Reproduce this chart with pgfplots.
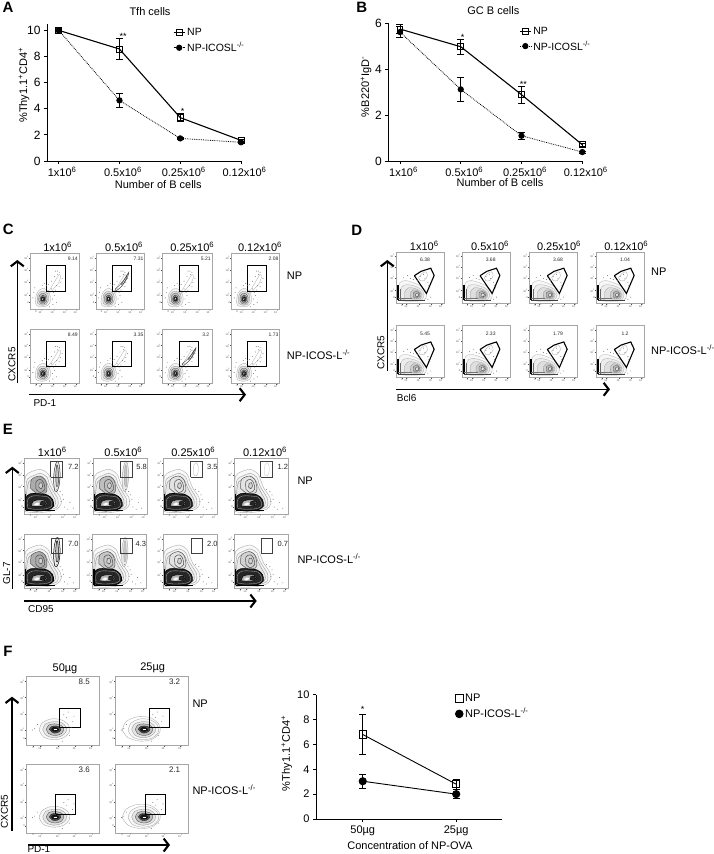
\documentclass[border=0pt]{standalone}
\usepackage{fontspec}
\setmainfont{Liberation Sans}
\usepackage{pgfplots}
\pgfplotsset{compat=1.18}
\usetikzlibrary{arrows.meta}

\pgfplotsset{
  chart/.style={
    scale only axis, anchor=south west, clip=false,
    axis lines=left, axis line style={-, line width=0.9pt},
    tick align=outside, tick pos=left, major tick length=3pt,
    every tick/.style={black, line width=0.9pt},
    xticklabel style={font=\fontsize{11}{13}\selectfont},
    yticklabel style={font=\fontsize{12}{14}\selectfont},
    /pgf/number format/assume math mode=true,
    legend cell align=left,
    legend style={draw=none, fill=none, inner sep=0pt, font=\fontsize{10.5}{11}\selectfont,
      row sep=1.2pt, /tikz/every even column/.append style={column sep=3pt}},
    legend image code/.code={\draw[##1,mark=none] (-5.5pt,0pt) -- (5.5pt,0pt); \draw[##1] plot coordinates {(0pt,0pt)};},
  },
  np/.style={black, line width=1.1pt, mark=square, mark size=2.9pt,
    mark options={solid, fill=none, line width=0.8pt},
    error bars/y dir=both, error bars/y explicit,
    error bars/error mark options={rotate=90, mark size=3.5pt, line width=0.7pt},
    error bars/error bar style={line width=0.7pt}},
  ko/.style={black, densely dotted, line width=0.8pt, mark=*, mark size=2.7pt,
    mark options={solid, fill=black},
    error bars/y dir=both, error bars/y explicit,
    error bars/error mark options={rotate=90, mark size=3.5pt, line width=0.7pt},
    error bars/error bar style={solid, line width=0.7pt}},
  flowbox/.style={
    scale only axis, anchor=south west,
    xmin=0, xmax=100, ymin=0, ymax=100,
    axis line style={gray!70, line width=0.4pt},
    tick align=outside, tick pos=left, major tick length=1.2pt,
    every tick/.style={black!70, line width=0.3pt},
    xtick={12,22,47,72,94}, ytick={12,25,49,70,91},
    xticklabels={0,10\textsuperscript{2},10\textsuperscript{3},10\textsuperscript{4},10\textsuperscript{5}},
    yticklabels={0,10\textsuperscript{2},10\textsuperscript{3},10\textsuperscript{4},10\textsuperscript{5}},
    tick label style={font=\fontsize{2.6}{3}\selectfont, text=black!70, inner sep=0.5pt},
    xticklabel style={yshift=0.6pt}, yticklabel style={xshift=0.6pt},
  },
  cl/.style={no marks, smooth, line width=0.3pt, draw=#1},
  gate/.style={no marks, black, line width=#1, line join=miter},
  specks/.style={only marks, mark=*, mark size=0.18pt, black!55, mark options={draw=none, fill=black!55}},
}

% one flow cytometry box: x left, y top, x right, y bottom (pixels), plots
\newcommand{\flow}[5]{%
  \pgfmathsetmacro\fw{#3-#1}\pgfmathsetmacro\fh{#4-#2}%
  \begin{axis}[flowbox, at={(#1pt,-#4pt)}, width=\fw pt, height=\fh pt]
  #5
  \end{axis}}
\newcommand{\pct}[4]{\node[font=\fontsize{#4}{#4}\selectfont, text=black!85, inner sep=0pt] at (axis cs:#1,#2) {#3};}

% panel C
\newcommand{\CtC}{%
  \addplot[cl=gray!70, fill=gray!8] coordinates {(11,13)(13,26)(19,34)(28,37)(37,32)(42,22)(41,11)(33,5)(21,4)(13,7)(11,13)};
  \addplot[cl=gray!90, fill=gray!25] coordinates {(15,14)(16,25)(22,31)(30,31)(37,26)(38,16)(33,8)(23,7)(16,10)(15,14)};
  \addplot[cl=black!70, fill=gray!45] coordinates {(18,15)(19,24)(24,28)(31,27)(35,21)(34,13)(29,9)(22,10)(18,15)};
  \addplot[cl=black!85, fill=gray!80] coordinates {(21,16)(22,22)(26,25)(31,23)(32,17)(29,12)(24,12)(21,16)};
  \addplot[cl=black, fill=black!85] coordinates {(23,17)(24,21)(27,22)(30,20)(30,16)(27,14)(24,15)(23,17)};
  \addplot[no marks, white, line width=0.5pt] coordinates {(25.5,16.5)(27,20)};
  \addplot[cl=gray!65] coordinates {(33,32)(40,34)(47,44)(54,54)(60,62)(63,58)(58,46)(50,38)(42,30)(36,28)(33,32)};
  \addplot[specks] coordinates {(8,30)(10,38)(6,20)(44,36)(48,30)(52,34)(55,42)(60,40)(62,48)(66,55)(60,66)(56,68)(50,58)(44,50)(38,44)(34,42)(30,46)(25,42)(46,18)(50,24)(54,12)(47,8)(40,4)(57,62)(52,68)};
}
\newcommand{\TailC}{%
  \addplot[cl=black!75, line width=0.4pt] coordinates {(40,36)(48,42)(56,50)(64,60)(68,66)(66,58)(58,46)(50,38)(42,33)(40,36)};
  \addplot[cl=black!75, line width=0.4pt] coordinates {(52,44)(60,54)(65,62)(63,54)(57,46)(52,44)};
}
\newcommand{\GateC}{\addplot[gate=1.1pt] coordinates {(34,31)(73.5,31)(73.5,78)(34,78)(34,31)};}

% panel D
\newcommand{\CtD}{%
  \addplot[cl=gray!60, fill=gray!6] coordinates {(6,6)(4,22)(8,40)(20,44)(36,40)(50,34)(60,26)(63,14)(58,6)(40,4)(20,4)(6,6)};
  \addplot[cl=gray!65, fill=gray!14] coordinates {(10,8)(9,22)(14,34)(26,36)(40,33)(52,27)(58,17)(54,8)(40,6)(22,6)(10,8)};
  \addplot[cl=gray!75, fill=gray!25] coordinates {(18,10)(18,22)(26,30)(38,29)(48,25)(54,17)(50,9)(36,8)(18,10)};
  \addplot[cl=gray!85, fill=gray!38] coordinates {(30,11)(30,20)(36,26)(46,24)(52,17)(48,10)(38,9)(30,11)};
  \addplot[cl=black!65, fill=gray!55] coordinates {(36,12)(36,20)(42,23)(48,20)(49,14)(44,11)(36,12)};
  \addplot[cl=black!80, fill=gray!25] coordinates {(40,14)(41,19)(45,20)(47,17)(45,13)(40,14)};
  \addplot[no marks, black, line width=1.9pt] coordinates {(5,6)(5,36)};
  \addplot[no marks, black!60, line width=1pt] coordinates {(9,7)(9,28)};
  \addplot[no marks, black!75, line width=0.5pt] coordinates {(5,6)(60,6)};
  \addplot[no marks, black!55, line width=0.35pt] coordinates {(5,10)(34,10)};
  \addplot[cl=gray!70] coordinates {(47,50)(54,58)(62,61)(65,53)(58,44)(50,44)(47,50)};
  \addplot[specks] coordinates {(16,50)(24,54)(30,48)(36,46)(44,44)(50,52)(57,56)(60,48)(66,40)(70,30)(72,12)(66,8)(54,62)(68,34)};
  \addplot[gate=1.1pt] coordinates {(38,53.5)(52,62)(72,68)(79,54)(63,19)(38,53.5)};
}

% panel E, #1 is the grey of the upper lobe
\newcommand{\CtE}[1]{%
  \addplot[cl=gray!65, fill=gray!5, line width=0.4pt] coordinates {(2,4)(1,40)(3,68)(14,76)(30,80)(44,72)(50,58)(55,46)(66,30)(68,18)(60,8)(40,3)(15,2)(2,4)};
  \addplot[cl=gray!75, fill=gray!10, line width=0.4pt] coordinates {(3,6)(3,40)(6,62)(16,68)(30,73)(42,66)(47,52)(54,40)(62,26)(60,12)(40,6)(15,5)(3,6)};
  \addplot[cl=gray!85, fill=gray!18, line width=0.4pt] coordinates {(5,8)(5,40)(9,58)(18,63)(30,68)(40,60)(44,50)(50,38)(57,25)(56,14)(40,8)(15,7)(5,8)};
  \addplot[cl=black!65, fill=#1, line width=0.5pt] coordinates {(12,46)(14,62)(28,68)(38,62)(42,48)(40,38)(25,36)(12,46)};
  \addplot[cl=black!70, line width=0.5pt] coordinates {(22,44)(22,58)(30,62)(36,56)(38,44)(30,38)(22,44)};
  \addplot[cl=black!70, fill=gray!35, line width=0.5pt] coordinates {(27,48)(28,55)(32,56)(34,50)(31,45)(27,48)};
  \addplot[cl=black, fill=black!85, line width=0.7pt] coordinates {(4,8)(3,28)(12,36)(26,36)(42,34)(52,26)(54,14)(44,7)(22,5)(4,8)};
  \addplot[cl=gray!70, line width=0.35pt] coordinates {(7,10)(7,26)(16,32)(30,32)(44,30)(50,22)(50,13)(40,9)(20,8)(7,10)};
  \addplot[cl=black, fill=gray!60, line width=0.5pt] coordinates {(14,14)(16,22)(26,25)(38,24)(42,18)(36,14)(22,13)(14,14)};
  \addplot[cl=black, fill=black!85, line width=0.4pt] coordinates {(30,16)(31,22)(38,22)(40,18)(36,15)(30,16)};
  \addplot[cl=gray!30, fill=white, line width=0.3pt] coordinates {(18,17)(24,20)(28,19)(27,16)(22,15)(18,17)};
  \addplot[no marks, black, line width=1.5pt] coordinates {(3,6)(3,36)};
  \addplot[no marks, black, line width=0.8pt] coordinates {(3,6)(56,6)};
  \addplot[specks] coordinates {(68,22)(70,34)(74,12)(80,8)(66,40)(60,44)(72,26)(84,20)(90,10)};
}
\newcommand{\ColE}[1]{%
  \addplot[cl=#1, fill=gray!15, line width=0.5pt] coordinates {(56,42)(54,60)(56,82)(60,94)(64,90)(66,70)(64,50)(60,40)(56,42)};
  \addplot[cl=#1, fill=gray!45, line width=0.5pt] coordinates {(59,50)(58,70)(60,88)(62,84)(63,66)(62,50)(59,50)};
}
\newcommand{\TopE}[1]{\addplot[cl=#1] coordinates {(56,72)(57,88)(62,92)(65,84)(64,72)(60,68)(56,72)};}
\newcommand{\GateE}[4]{\addplot[gate=0.8pt, black!75] coordinates {(#1,#3)(#2,#3)(#2,#4)(#1,#4)(#1,#3)};}

% panel F
\newcommand{\CtF}{%
  \addplot[cl=gray!75, fill=gray!6] coordinates {(18,22)(22,32)(34,38)(48,37)(58,30)(60,20)(52,11)(38,8)(24,12)(18,22)};
  \addplot[cl=gray!90, fill=gray!20] coordinates {(23,23)(27,31)(37,34)(48,33)(55,27)(55,19)(48,13)(37,11)(27,15)(23,23)};
  \addplot[cl=black!75, fill=gray!50] coordinates {(28,23)(31,29)(39,31)(48,29)(52,24)(49,17)(40,14)(31,17)(28,23)};
  \addplot[cl=black!90, fill=black!70] coordinates {(32,23)(35,27)(41,28)(47,26)(48,22)(43,18)(37,18)(32,23)};
  \addplot[cl=black, fill=black!90] coordinates {(35,23)(38,26)(43,25)(45,22)(41,20)(36,21)(35,23)};
  \addplot[no marks, white, line width=0.6pt] coordinates {(38,23)(43,23)};
  \addplot[specks] coordinates {(12,24)(16,30)(9,22)(62,26)(64,34)(56,40)(60,14)(52,44)(58,48)(66,42)(50,6)};
}
\newcommand{\OutF}{\addplot[cl=gray!75] coordinates {(10,22)(15,34)(30,41)(48,40)(60,31)(62,20)(52,9)(35,6)(18,11)(10,22)};}
\newcommand{\GateF}[4]{\addplot[gate=1pt] coordinates {(#1,#3)(#2,#3)(#2,#4)(#1,#4)(#1,#3)};}

\newcommand{\ssix}{x10\textsuperscript{6}}
\newcommand{\axarrow}[2]{\draw[line width=1.1pt, -{Straight Barb[length=5pt,width=13pt,line width=2.1pt]}] #1 -- #2;}

\begin{document}
\begin{tikzpicture}[x=1pt, y=-1pt, lb/.style={font=\fontsize{11}{13}\selectfont, inner sep=0pt},
  lbs/.style={font=\fontsize{10}{12}\selectfont, inner sep=0pt},
  star/.style={font=\fontsize{9}{9}\selectfont, inner sep=0pt},
  let/.style={font=\bfseries\fontsize{15}{15}\selectfont, inner sep=0pt}]
\path[use as bounding box] (0,0) rectangle (714,854);

% A
\begin{axis}[chart, at={(47pt,-161pt)}, width=194pt, height=137.2pt,
  xmin=-0.192, xmax=3, ymin=0, ymax=10.5, ytick={0,2,4,6,8,10},
  xtick={0,1,2,3}, xticklabels={1\ssix,0.5\ssix,0.25\ssix,0.12\ssix},
  xticklabel style={xshift=3.5pt},
  legend style={at={(axis cs:1.88,9.2)}, anchor=west}]
\addplot[np] coordinates {(0,10) +- (0,0.1) (1,8.57) +- (0,0.8) (2,3.32) +- (0,0.3) (3,1.58) +- (0,0.1)};
\addplot[ko] coordinates {(0,10) +- (0,0.1) (1,4.64) +- (0,0.54) (2,1.73) +- (0,0.1) (3,1.43) +- (0,0.1)};
\legend{NP,NP-ICOSL\textsuperscript{-/-}}
\node[star] at (axis cs:1.06,9.55) {**};
\node[star] at (axis cs:2.04,3.8) {*};
\end{axis}

% B
\begin{axis}[chart, at={(388.3pt,-161pt)}, width=194pt, height=137.7pt,
  xmin=-0.192, xmax=3, ymin=0, ymax=6, ytick={0,2,4,6},
  xtick={0,1,2,3}, xticklabels={1\ssix,0.5\ssix,0.25\ssix,0.12\ssix},
  xticklabel style={xshift=3.5pt},
  legend style={at={(axis cs:1.96,5.31)}, anchor=west}]
\addplot[np] coordinates {(0,5.75) +- (0,0.2) (1,4.98) +- (0,0.33) (2,2.89) +- (0,0.38) (3,0.71) +- (0,0.05)};
\addplot[ko] coordinates {(0,5.62) +- (0,0.25) (1,3.12) +- (0,0.54) (2,1.10) +- (0,0.17) (3,0.39) +- (0,0.05)};
\legend{NP,NP-ICOSL\textsuperscript{-/-}}
\node[star] at (axis cs:1.03,5.38) {*};
\node[star] at (axis cs:2.03,3.33) {**};
\end{axis}

% F chart
\begin{axis}[chart, at={(316pt,-819pt)}, width=186pt, height=124.3pt,
  xmin=-0.5, xmax=1.49, ymin=0, ymax=10, ytick={0,2,4,6,8,10},
  xtick={0,1}, xticklabels={50µg,25µg},
  yticklabel style={font=\fontsize{11}{13}\selectfont},
  legend style={at={(axis cs:0.99,9.03)}, anchor=west, font=\fontsize{11}{12}\selectfont},
  legend image code/.code={\draw[#1,mark size=3.8pt] plot coordinates {(4pt,0pt)};}]
\addplot[np, line width=0.9pt, mark size=3.6pt] coordinates {(0,6.8) += (0,1.65) -= (0,1.6) (1,2.8) +- (0,0.4)};
\addplot[ko, solid, line width=0.9pt, mark size=3.6pt] coordinates {(0,3.04) += (0,0.56) -= (0,0.54) (1,2.0) += (0,0.4) -= (0,0.35)};
\legend{NP,NP-ICOS-L\textsuperscript{-/-}}
\node[star] at (axis cs:0,8.8) {*};
\end{axis}

% C
\flow{30}{253.3}{78.7}{309}{\CtC \GateC \pct{88}{90}{9.14}{5}}
\flow{95.7}{253.3}{144.3}{309}{\CtC \TailC \GateC \pct{88}{90}{7.31}{5}}
\flow{162.3}{253.3}{211.7}{309}{\CtC \GateC \pct{88}{90}{5.21}{5}}
\flow{231.3}{253.3}{279.3}{309}{\CtC \GateC \pct{88}{90}{2.08}{5}}
\flow{30}{329.3}{78.7}{383.3}{\CtC \GateC \pct{88}{90}{8.49}{5}}
\flow{95.7}{329.3}{144.3}{383.3}{\CtC \GateC \pct{88}{90}{3.35}{5}}
\flow{162.3}{329.3}{211.7}{383.3}{\CtC \TailC \GateC \pct{88}{90}{3.2}{5}}
\flow{231.3}{329.3}{279.3}{383.3}{\CtC \GateC \pct{88}{90}{1.73}{5}}

% D
\flow{396}{251.7}{444.3}{303.3}{\CtD \pct{60}{84}{6.38}{5}}
\flow{461.7}{251.7}{510}{303.3}{\CtD \pct{60}{84}{3.68}{5}}
\flow{529}{251.7}{577.3}{303.3}{\CtD \pct{60}{84}{3.68}{5}}
\flow{596}{251.7}{644.3}{303.3}{\CtD \pct{60}{84}{1.04}{5}}
\flow{396}{325.3}{444.3}{377.3}{\CtD \pct{60}{84}{5.45}{5}}
\flow{461.7}{325.3}{510}{377.3}{\CtD \pct{60}{84}{2.33}{5}}
\flow{529}{325.3}{577.3}{377.3}{\CtD \pct{60}{84}{1.79}{5}}
\flow{596}{325.3}{644.3}{377.3}{\CtD \pct{60}{84}{1.2}{5}}

% E
\flow{24}{458.3}{78.7}{513.7}{\CtE{gray!65} \ColE{black!80} \GateE{48.8}{70.7}{66.3}{95.2} \pct{90}{85}{7.2}{7.5}}
\flow{93}{458.3}{147}{513.7}{\CtE{gray!50} \ColE{gray!70} \GateE{50.6}{72.2}{66.3}{95.2} \pct{90}{85}{5.8}{7.5}}
\flow{163}{458.3}{217.3}{513.7}{\CtE{gray!22} \TopE{gray!70} \GateE{50.9}{72.4}{66.3}{95.2} \pct{91}{85}{3.5}{7.5}}
\flow{234}{458.3}{288.3}{513.7}{\CtE{gray!22} \TopE{gray!50} \GateE{49}{71.2}{66.3}{95.2} \pct{90}{85}{1.2}{7.5}}
\flow{24}{534.3}{78.7}{588.3}{\CtE{gray!65} \ColE{black} \GateE{50.6}{70.7}{64.2}{93.2} \pct{90}{83}{7.0}{7.5}}
\flow{92.3}{534.3}{146.3}{588.3}{\CtE{gray!45} \ColE{gray!60} \GateE{51.8}{73.5}{64.2}{93.2} \pct{90}{83}{4.3}{7.5}}
\flow{163}{534.3}{217.3}{588.3}{\CtE{gray!22} \GateE{52}{73}{64.2}{93.2} \pct{91}{83}{2.0}{7.5}}
\flow{234}{534.3}{288.3}{588.3}{\CtE{gray!35} \GateE{50}{71.2}{64.2}{93.2} \pct{90}{83}{0.7}{7.5}}

% F boxes
\pgfplotsset{flowbox/.append style={xtick={10,20,44,67,90}, ytick={10,22,45,69,92}}}
\flow{26}{676}{98.7}{745.3}{\CtF \GateF{46.3}{74.3}{25}{53.8} \pct{80}{92}{8.5}{8}}
\flow{115}{676}{187.7}{745.3}{\OutF \CtF \GateF{46.8}{74.3}{25}{53.8} \pct{82}{92}{3.2}{8}}
\flow{26}{764}{98.7}{832.7}{\CtF \GateF{40.8}{68.3}{26.7}{55.3} \pct{80}{91}{3.6}{8}}
\flow{115}{764}{187.7}{832.7}{\OutF \CtF \GateF{41.7}{69.3}{26.7}{55.3} \pct{82}{91}{2.1}{8}}

% letters
\node[let] at (8,7) {A};
\node[let] at (361.7,7) {B};
\node[let] at (8.3,229.5) {C};
\node[let] at (356.7,230.7) {D};
\node[let] at (8,429.5) {E};
\node[let] at (8,651) {F};

% chart labels
\node[lb] at (150,11.5) {Tfh cells};
\node[lb] at (158.3,184.3) {Number of B cells};
\node[lb, rotate=90] at (24,85) {\%Thy1.1\textsuperscript{+}CD4\textsuperscript{+}};
\node[lb] at (493.3,11) {GC B cells};
\node[lb] at (500,182.3) {Number of B cells};
\node[lb, rotate=90] at (366,86.7) {\%B220\textsuperscript{+}IgD\textsuperscript{-}};
\node[lb, rotate=90] at (286.7,753.3) {\%Thy1.1\textsuperscript{+}CD4\textsuperscript{+}};
\node[lb] at (410,846) {Concentration of NP-OVA};

% flow titles
\foreach \tx/\tl in {57.7/1,124/0.5,192.3/0.25,260/0.12} \node[lb] at (\tx,247.3) {\tl\ssix};
\foreach \tx/\tl in {424.3/1,490/0.5,559/0.25,626.3/0.12} \node[lb] at (\tx,246) {\tl\ssix};
\foreach \tx/\tl in {52.3/1,123.3/0.5,193.3/0.25,265/0.12} \node[lb] at (\tx,452.3) {\tl\ssix};
\node[lb] at (65,669) {50µg};
\node[lb] at (152.7,668) {25µg};

% row labels
\node[lb, anchor=west] at (286.7,276) {NP};
\node[lb, anchor=west] at (286.7,354.3) {NP-ICOS-L\textsuperscript{-/-}};
\node[lb, anchor=west] at (651,271.7) {NP};
\node[lb, anchor=west] at (651,350) {NP-ICOS-L\textsuperscript{-/-}};
\node[lb, anchor=west] at (297.3,480.7) {NP};
\node[lb, anchor=west] at (297.3,558.3) {NP-ICOS-L\textsuperscript{-/-}};
\node[lb, anchor=west] at (192.3,703.3) {NP};
\node[lb, anchor=west] at (192.3,790) {NP-ICOS-L\textsuperscript{-/-}};

% gate axes
\axarrow{(17.3,383)}{(17.3,260)}
\axarrow{(29,394.7)}{(246,394.7)}
\node[lbs, rotate=90] at (12,364.3) {CXCR5};
\node[lbs, anchor=west] at (33.3,403.3) {PD-1};
\axarrow{(387.3,370.7)}{(387.3,260)}
\axarrow{(395.7,389.3)}{(610,389.3)}
\node[lbs, rotate=90] at (381,352.7) {CXCR5};
\node[lbs, anchor=west] at (396.7,397.7) {Bcl6};
\axarrow{(12.3,589)}{(12.3,466.7)}
\axarrow{(24,601)}{(256.7,601)}
\node[lbs, rotate=90] at (6.7,573.3) {GL-7};
\node[lbs, anchor=west] at (28,609) {CD95};
\axarrow{(12,830.7)}{(12,696.7)}
\axarrow{(28,845)}{(170,845)}
\node[lbs, rotate=90] at (4.5,811.7) {CXCR5};
\node[lbs, anchor=west] at (27.3,849) {PD-1};
\end{tikzpicture}
\end{document}
